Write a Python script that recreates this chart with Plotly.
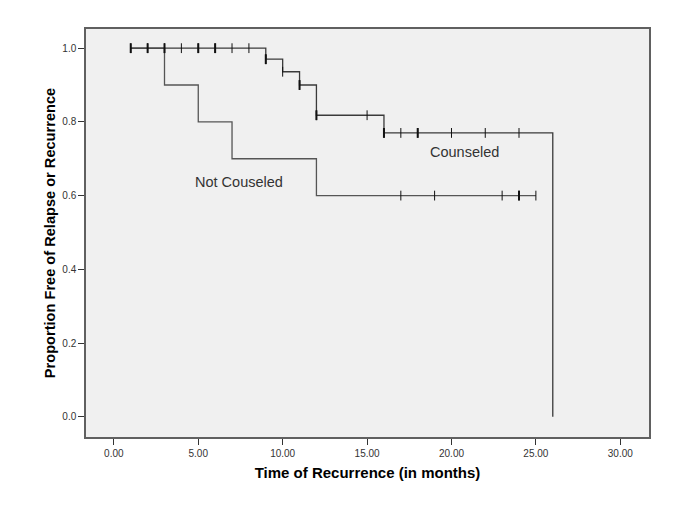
import numpy as np
import plotly.graph_objects as go

# Kaplan-Meier step data
couns_time = [1, 9, 10, 11, 12, 16, 26, 26]
couns_surv = [1.0, 0.970, 0.936, 0.900, 0.818, 0.770, 0.770, 0.0]
couns_cens = [1, 2, 3, 4, 5, 6, 7, 8, 9, 10, 11, 12, 15, 16, 17, 18, 20, 22, 24]
couns_cens_bold = [1, 2, 3, 5, 6, 9, 11, 12, 16, 18]

notc_time = [1, 3, 5, 7, 12, 25]
notc_surv = [1.0, 0.9, 0.8, 0.7, 0.6, 0.6]
notc_cens = [17, 19, 23, 24, 25]
notc_cens_bold = [24]

x_ticks = [0, 5, 10, 15, 20, 25, 30]
y_ticks = [0.0, 0.2, 0.4, 0.6, 0.8, 1.0]


def step_value(times, surv, t):
    # survival value in effect at time t, ignoring the final drop to zero
    val = surv[0]
    for tt, s in zip(times, surv):
        if tt <= t and s > 0:
            val = s
    return val


def cens_y(times, surv, cens):
    return [step_value(times, surv, c) for c in cens]


fig = go.Figure()

fig.add_trace(go.Scatter(
    x=notc_time, y=notc_surv, mode='lines', line_shape='hv',
    line=dict(color='#555555', width=1.3), showlegend=False, hoverinfo='skip'
))
fig.add_trace(go.Scatter(
    x=couns_time, y=couns_surv, mode='lines', line_shape='hv',
    line=dict(color='#3a3a3a', width=1.3), showlegend=False, hoverinfo='skip'
))

# censored marks
for times, surv, cens, w in [
    (couns_time, couns_surv, couns_cens, 1.0),
    (couns_time, couns_surv, couns_cens_bold, 2.0),
    (notc_time, notc_surv, notc_cens, 1.0),
    (notc_time, notc_surv, notc_cens_bold, 2.0),
]:
    fig.add_trace(go.Scatter(
        x=cens, y=cens_y(times, surv, cens), mode='markers',
        marker=dict(symbol='line-ns-open', size=7, color='#111111',
                    line=dict(color='#111111', width=w)),
        showlegend=False, hoverinfo='skip'
    ))

fig.add_annotation(x=20.8, y=0.717, text='Counseled', showarrow=False,
                   font=dict(family='Liberation Sans, Arial', size=14.5, color='#333333'))
fig.add_annotation(x=7.43, y=0.637, text='Not Couseled', showarrow=False,
                   font=dict(family='Liberation Sans, Arial', size=14.5, color='#333333'))

fig.update_layout(
    width=685, height=513,
    plot_bgcolor='#f0f0f0',
    paper_bgcolor='white',
    font=dict(family='Liberation Sans, Arial', size=10, color='#333333'),
    margin=dict(l=78, r=44, t=21, b=84),
    showlegend=False,
)

fig.update_xaxes(
    range=[-1.65, 31.7], tickvals=x_ticks,
    ticktext=['%.2f' % v for v in x_ticks],
    showgrid=False, zeroline=False,
    showline=True, mirror=True, linewidth=1.5, linecolor='#606060',
    ticks='outside', ticklen=6, tickcolor='#333333',
    tickfont=dict(size=10, color='#333333'),
    title=dict(text='<b>Time of Recurrence (in months)</b>',
               font=dict(size=15, color='black'), standoff=10),
)
fig.update_yaxes(
    range=[-0.055, 1.052], tickvals=y_ticks,
    ticktext=['%.1f' % v for v in y_ticks],
    showgrid=False, zeroline=False,
    showline=True, mirror=True, linewidth=1.5, linecolor='#606060',
    ticks='outside', ticklen=6, tickcolor='#333333',
    tickfont=dict(size=10, color='#333333'),
    title=dict(text='<b>Proportion Free of Relapse or Recurrence</b>',
               font=dict(size=14.6, color='black'), standoff=3),
)

fig.write_html("out.html")
